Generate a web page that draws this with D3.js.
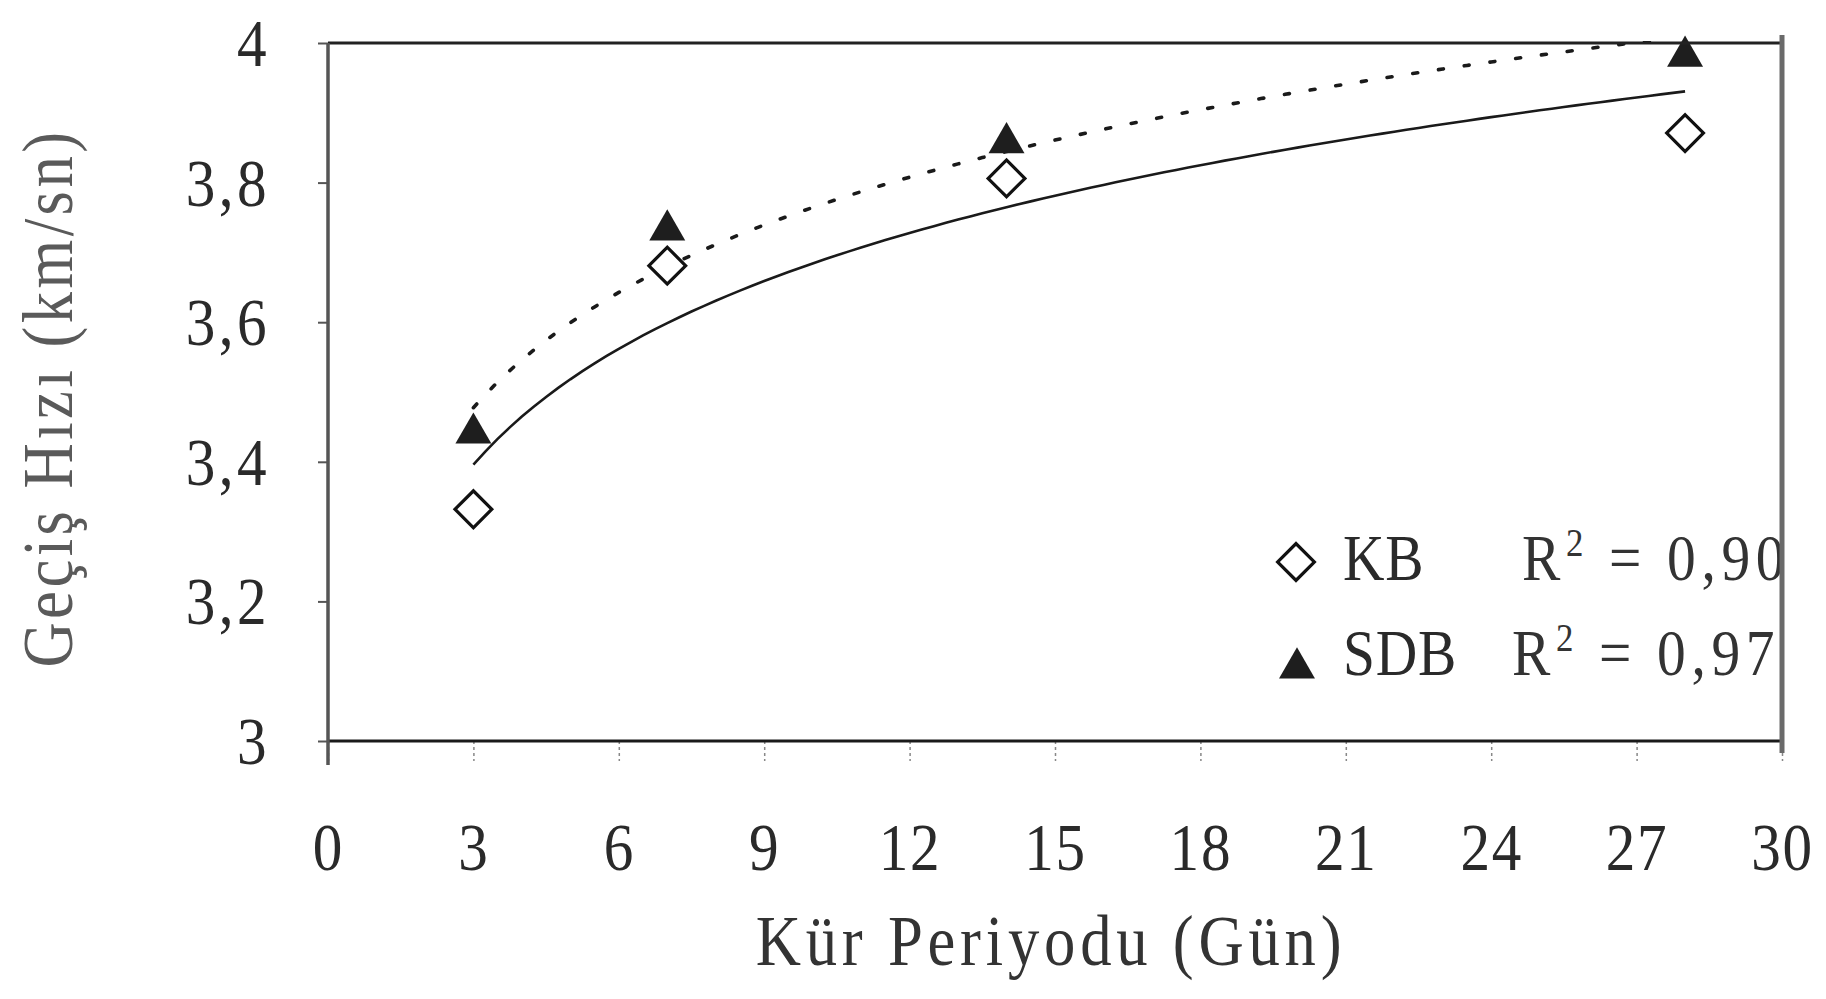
<!DOCTYPE html>
<html><head><meta charset="utf-8">
<script src="https://cdn.jsdelivr.net/npm/d3@7"></script>
<style>html,body{margin:0;padding:0;background:#fff;}svg{display:block;}</style>
</head><body>
<svg id="chart" width="1826" height="999"></svg>
<script>
// ---- data ----
const days = [3, 7, 14, 28];
const kbValues = [3.332, 3.681, 3.806, 3.871];
const sdbValues = [3.441, 3.732, 3.857, 3.981];
const xTicks = [0, 3, 6, 9, 12, 15, 18, 21, 24, 27, 30];
const yTicks = [3, 3.2, 3.4, 3.6, 3.8, 4];
const yTickLabels = ["3", "3,2", "3,4", "3,6", "3,8", "4"];
const seriesNames = ["KB", "SDB"];
const r2Labels = ["0,90", "0,97"];
const xTitle = "Kür Periyodu (Gün)";
const yTitle = "Geçiş Hızı (km/sn)";

const W = 1826, H = 999;
const m = {left: 328, right: W - 1782, top: 43, bottom: H - 741};
const svg = d3.select("#chart");
const x = d3.scaleLinear().domain([0, 30]).range([m.left, W - m.right]);
const y = d3.scaleLinear().domain([3, 4]).range([H - m.bottom, m.top]);
const font = "'Liberation Serif', 'Times New Roman', serif";
const SX = 0.87; // horizontal squeeze of the scanned typeface

svg.append("rect").attr("width", W).attr("height", H).attr("fill", "#fff");

svg.append("defs").append("clipPath").attr("id", "plotclip")
  .append("rect").attr("x", m.left).attr("y", m.top - 2)
  .attr("width", W - m.left - m.right).attr("height", H - m.top - m.bottom + 2);

// logarithmic trend fit (least squares on ln x)
function logFit(xs, ys) {
  const lx = xs.map(Math.log);
  const mx = d3.mean(lx), my = d3.mean(ys);
  const sxy = d3.sum(lx, (v, i) => (v - mx) * (ys[i] - my));
  const sxx = d3.sum(lx, v => (v - mx) * (v - mx));
  const a = sxy / sxx, b = my - a * mx;
  return t => a * Math.log(t) + b;
}
const fitKB = logFit(days, kbValues);
const fitSDB = logFit(days, sdbValues);
const tSamples = d3.range(days[0], days[days.length - 1] + 0.001, 0.25);
const line = d3.line().x(d => x(d[0])).y(d => y(d[1]));

const plot = svg.append("g").attr("clip-path", "url(#plotclip)");
plot.append("path").datum(tSamples.map(t => [t, fitKB(t)]))
  .attr("d", line).attr("fill", "none").attr("stroke", "#1a1a1a").attr("stroke-width", 2.6);
plot.append("path").datum(tSamples.map(t => [t, fitSDB(t)]))
  .attr("d", line).attr("fill", "none").attr("stroke", "#1a1a1a").attr("stroke-width", 3.6)
  .attr("stroke-dasharray", "5,21").attr("stroke-linecap", "round");

// axes
const xAxis = d3.axisBottom(x).tickValues(xTicks).tickSize(20).tickFormat(d => d);
const gx = svg.append("g").attr("transform", `translate(0,${H - m.bottom})`).call(xAxis);
gx.select(".domain").remove();
gx.selectAll(".tick line").attr("stroke", "#888").attr("stroke-width", 1.5).attr("stroke-dasharray", "3,3");
gx.selectAll(".tick text").attr("font-family", font).attr("font-size", 68).attr("fill", "#2a2a2a")
  .attr("y", 129).attr("dy", 0).attr("letter-spacing", 2).attr("transform", `scale(${SX},1)`);

const yAxis = d3.axisLeft(y).tickValues(yTicks).tickSize(10).tickFormat((d, i) => yTickLabels[i]);
const gy = svg.append("g").attr("transform", `translate(${m.left},0)`).call(yAxis);
gy.select(".domain").remove();
gy.selectAll(".tick line").attr("stroke", "#555").attr("stroke-width", 2);
gy.selectAll(".tick text").attr("font-family", font).attr("font-size", 68).attr("fill", "#2a2a2a")
  .attr("x", -58 / SX).attr("dy", "0.33em").attr("letter-spacing", 4).attr("transform", `scale(${SX},1)`);

// markers
const diamond = d3.symbol().type(d3.symbolSquare).size(26 * 26);
const triangle = d3.symbol().type(d3.symbolTriangle).size(560);
svg.append("g").selectAll("path").data(days).join("path")
  .attr("d", diamond)
  .attr("transform", (d, i) => `translate(${x(d)},${y(kbValues[i])}) rotate(45)`)
  .attr("fill", "#fff").attr("stroke", "#111").attr("stroke-width", 3.2);
svg.append("g").selectAll("path").data(days).join("path")
  .attr("d", triangle)
  .attr("transform", (d, i) => `translate(${x(d)},${y(sdbValues[i])})`)
  .attr("fill", "#1e1e1e");

// legend
function sText(g, tx, ty, size) {
  return g.append("text").attr("transform", `translate(${tx},${ty}) scale(${SX},1)`)
    .attr("font-family", font).attr("font-size", size);
}
const lg = svg.append("g");
const legRows = [
  {sym: diamond, rot: 45, fill: "#fff", stroke: "#111", sx: 1296, sy: 562, tx: 1343, rx: 1522, base: 580},
  {sym: triangle, rot: 0, fill: "#1e1e1e", stroke: "none", sx: 1297, sy: 668, tx: 1343, rx: 1512, base: 675}
];
legRows.forEach((r, i) => {
  lg.append("path").attr("d", r.sym)
    .attr("transform", `translate(${r.sx},${r.sy}) rotate(${r.rot})`)
    .attr("fill", r.fill).attr("stroke", r.stroke).attr("stroke-width", 3.2);
  sText(lg, r.tx, r.base, 66).attr("fill", "#2a2a2a").attr("letter-spacing", 1).text(seriesNames[i]);
  const t = sText(lg, r.rx, r.base, 66).attr("fill", "#333").attr("letter-spacing", 6.5);
  t.append("tspan").text("R");
  t.append("tspan").attr("font-size", 40).attr("dy", -24).text("2");
  t.append("tspan").attr("dy", 24).text(" = " + r2Labels[i]);
});

// frame
svg.append("line").attr("x1", m.left).attr("x2", W - m.right).attr("y1", m.top).attr("y2", m.top)
  .attr("stroke", "#222").attr("stroke-width", 3);
svg.append("line").attr("x1", m.left).attr("x2", W - m.right).attr("y1", H - m.bottom).attr("y2", H - m.bottom)
  .attr("stroke", "#1a1a1a").attr("stroke-width", 3);
svg.append("line").attr("x1", m.left).attr("x2", m.left).attr("y1", m.top).attr("y2", 765)
  .attr("stroke", "#555").attr("stroke-width", 3.5);
svg.append("line").attr("x1", W - m.right).attr("x2", W - m.right).attr("y1", m.top - 8).attr("y2", 753)
  .attr("stroke", "#6a6a6a").attr("stroke-width", 5);

// titles
sText(svg, 1051, 965, 72).attr("text-anchor", "middle").attr("fill", "#333")
  .attr("letter-spacing", 5.5).text(xTitle);
svg.append("text").attr("transform", `translate(72,398) rotate(-90) scale(${SX},1)`).attr("text-anchor", "middle")
  .attr("font-family", font).attr("font-size", 72).attr("fill", "#5a5a5a").attr("letter-spacing", 4)
  .text(yTitle);
</script>
</body></html>
